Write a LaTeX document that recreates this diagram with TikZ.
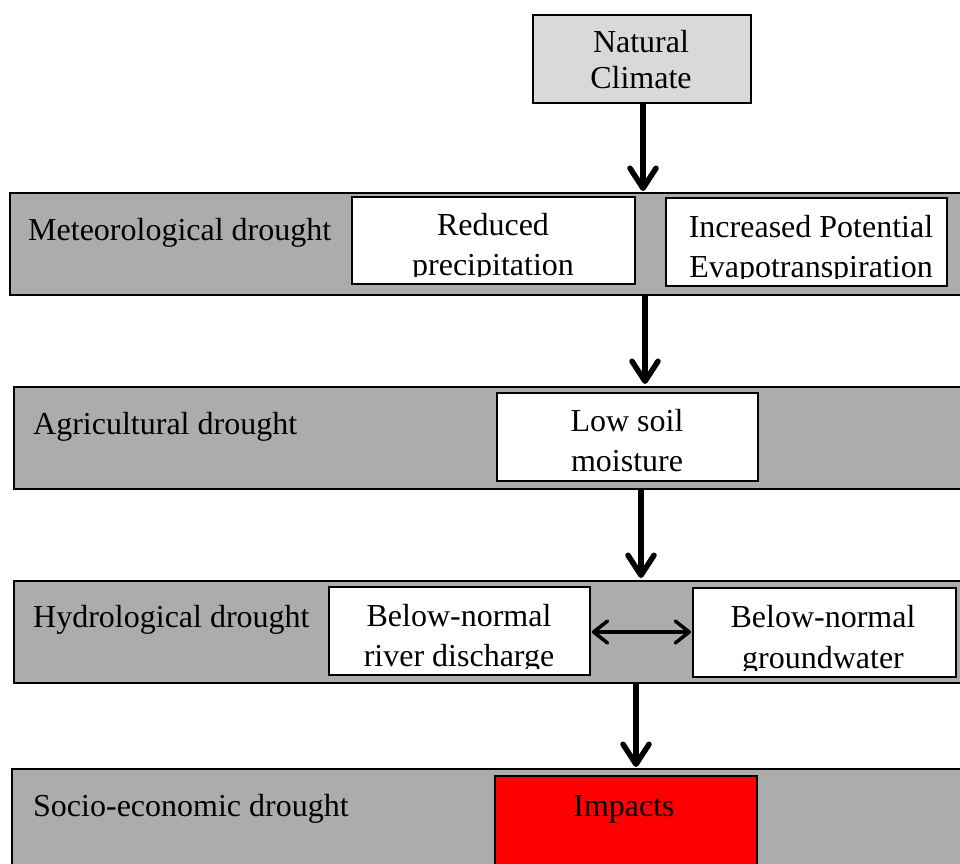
\documentclass[tikz,border=0pt]{standalone}
\usepackage{fontspec}
\setmainfont{Liberation Serif}
\usetikzlibrary{arrows.meta}
\definecolor{bandgray}{RGB}{172,172,172}
\definecolor{climgray}{RGB}{217,217,217}
\definecolor{impactred}{RGB}{255,0,0}
\begin{document}
\begin{tikzpicture}[x=1pt,y=-1pt,
  band/.style={draw=black, line width=1.8pt, fill=bandgray, inner sep=0pt,
    anchor=north west, minimum height=102pt},
  cbox/.style={draw=black, line width=1.8pt, fill=white, inner sep=0pt,
    anchor=north west},
  txt/.style={font=\fontsize{32}{38}\selectfont, inner sep=0pt, anchor=base},
  ltxt/.style={font=\fontsize{32}{38}\selectfont, inner sep=0pt, anchor=base west},
  flow/.style={line width=5.5pt, -{Straight Barb[length=20pt,width=26pt,round]}},
  link/.style={line width=3.5pt, {Straight Barb[length=14pt,width=22pt,round]}-{Straight Barb[length=14pt,width=22pt,round]}}]
\useasboundingbox (0,0) rectangle (960,863);

% drought bands
\node[band, minimum width=966pt] (B1) at (9,192) {};
\node[band, minimum width=962pt] (B2) at (13,386) {};
\node[band, minimum width=962pt] (B3) at (13,580) {};
\node[band, minimum width=964pt, minimum height=120pt] (B4) at (11,768) {};

\node[ltxt] (B1t) at (28,240) {Meteorological drought};
\node[ltxt] (B2t) at (33,434) {Agricultural drought};
\node[ltxt] (B3t) at (33,627) {Hydrological drought};
\node[ltxt] (B4t) at (33,816) {Socio-economic drought};

% top box
\node[cbox, fill=climgray, minimum width=218pt, minimum height=88pt] (NC) at (532,14) {};
\node[txt] (NC1) at (641,52) {Natural};
\node[txt] (NC2) at (641,88) {Climate};

% boxes inside the bands
\node[cbox, minimum width=283pt, minimum height=87pt] (RP) at (351,196) {};
\node[cbox, minimum width=281pt, minimum height=88pt] (PE) at (665,197) {};
\node[cbox, minimum width=261pt, minimum height=88pt] (SM) at (496,392) {};
\node[cbox, minimum width=261pt, minimum height=88pt] (RD) at (328,586) {};
\node[cbox, minimum width=263pt, minimum height=89pt] (GW) at (692,587) {};
\node[cbox, fill=impactred, minimum width=262pt, minimum height=110pt] (IM) at (494,775) {};

% box texts, the second line cut off just below its baseline
\begin{scope}
  \clip (RP.north west) rectangle (RP.east |- 0,276.5);
  \node[txt] (RP1) at (493,235) {Reduced};
  \node[txt] (RP2) at (493,275) {precipitation};
\end{scope}
\begin{scope}
  \clip (PE.north west) rectangle (PE.east |- 0,278.5);
  \node[txt] (PE1) at (811,237) {Increased Potential};
  \node[txt] (PE2) at (811,277) {Evapotranspiration};
\end{scope}
\begin{scope}
  \clip (SM.north west) rectangle ([yshift=5pt]SM.south east);
  \node[txt] (SM1) at (627,431) {Low soil};
  \node[txt] (SM2) at (627,471) {moisture};
\end{scope}
\begin{scope}
  \clip (RD.north west) rectangle (RD.east |- 0,668);
  \node[txt] (RD1) at (459,626) {Below-normal};
  \node[txt] (RD2) at (459,666) {river discharge};
\end{scope}
\begin{scope}
  \clip (GW.north west) rectangle (GW.east |- 0,670);
  \node[txt] (GW1) at (823,627) {Below-normal};
  \node[txt] (GW2) at (823,668) {groundwater};
\end{scope}
\node[txt] (IM1) at (624,816) {Impacts};

% arrows between the stages
\coordinate (a1) at (643,191);
\coordinate (a2s) at (645,294);
\coordinate (a2e) at (645,384);
\coordinate (a3s) at (641,488);
\coordinate (a3e) at (641,578);
\coordinate (a4s) at (636,682);
\coordinate (a4e) at (636,767);
\draw[flow] (NC.south -| a1) -- (a1);
\draw[flow] (a2s) -- (a2e);
\draw[flow] (a3s) -- (a3e);
\draw[flow] (a4s) -- (a4e);
\draw[link] ([xshift=1pt]RD.east |- 0,632) -- ([xshift=-1pt]GW.west |- 0,632);
\end{tikzpicture}
\end{document}
